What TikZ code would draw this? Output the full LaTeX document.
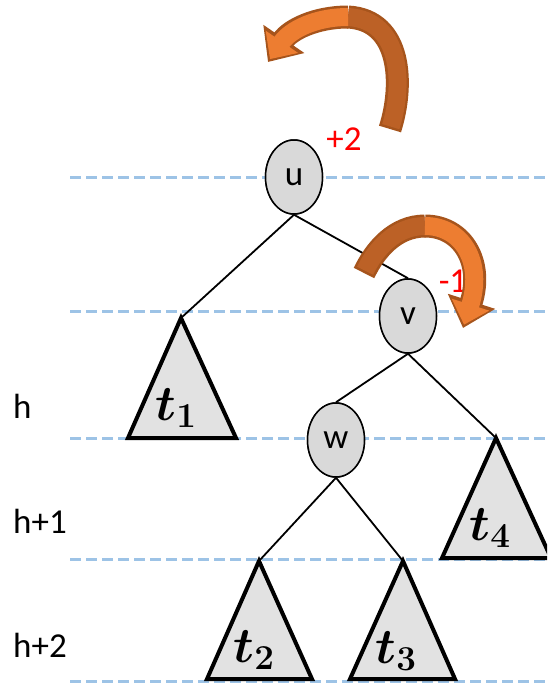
\RequirePackage{fix-cm}
\documentclass[tikz,border=0pt]{standalone}
\usepackage{fontspec}
\setmainfont{Carlito}
\usetikzlibrary{arrows.meta,shapes.geometric}
\definecolor{dashblue}{RGB}{157,195,230}
\definecolor{nodegray}{RGB}{217,217,217}
\definecolor{trigray}{RGB}{226,226,226}
\definecolor{arrowlight}{RGB}{237,125,49}
\definecolor{arrowdark}{RGB}{188,97,38}
\definecolor{arrowline}{RGB}{166,84,28}
\begin{document}
\begin{tikzpicture}[x=1pt,y=-1pt,
  levelline/.style={dashblue, line width=3pt, dash pattern=on 11pt off 5pt},
  treenode/.style={ellipse, draw, fill=nodegray, line width=1.5pt, minimum width=57pt, minimum height=74pt, inner sep=0pt, font=\fontsize{35}{40}\selectfont},
  treeedge/.style={line width=1.8pt},
  subtree/.style={draw, line width=4pt, fill=trigray, line join=miter},
  levellabel/.style={anchor=west, inner sep=0pt, font=\fontsize{35}{40}\selectfont},
  balance/.style={text=red, inner sep=0pt, font=\fontsize{35}{40}\selectfont},
  sublabel/.style={inner sep=0pt, font=\fontsize{50}{54}\selectfont\boldmath},
  rotouter/.style={line width=23pt, draw=arrowline},
  rotinner/.style={line width=18pt}
]
\useasboundingbox (0,0) rectangle (547,683);
\clip (0,0) rectangle (547,683);

% level lines
\foreach \yy in {177,311,438,559,681}
  \draw[levelline] (70,\yy) -- (547,\yy);

% subtree apexes
\coordinate (a1) at (181,318);
\coordinate (a4) at (496,438);
\coordinate (a2) at (259,561);
\coordinate (a3) at (403,561);

% nodes (placed first so that edges can refer to them)
\node[treenode] (u) at (294,177) {u};
\node[treenode] (v) at (408,316) {v};
\node[treenode] (w) at (336,440) {w};

% edges
\draw[treeedge] (u.south) -- (a1);
\draw[treeedge] (u.south) -- (v.north);
\draw[treeedge] (v.south) -- (w.north);
\draw[treeedge] (v.south) -- (a4);
\draw[treeedge] (w.south) -- (a2);
\draw[treeedge] (w.south) -- (a3);

% subtrees
\draw[subtree] (a1) -- (128,438) -- (236,438) -- cycle;
\draw[subtree] (a4) -- (442,558) -- (551,558) -- cycle;
\draw[subtree] (a2) -- (207,679) -- (312,679) -- cycle;
\draw[subtree] (a3) -- (350,679) -- (455,679) -- cycle;

% nodes again on top of the edge ends
\node[treenode] at (u) {u};
\node[treenode] at (v) {v};
\node[treenode] at (w) {w};

% subtree labels
\node[sublabel] (lt1) at (176,408) {$t_1$};
\node[sublabel] (lt4) at (490,528) {$t_4$};
\node[sublabel] (lt2) at (254,650) {$t_2$};
\node[sublabel] (lt3) at (396,651) {$t_3$};

% level labels
\node[levellabel] (lh) at (13,406) {h};
\node[levellabel] (lh1) at (13,521) {h+1};
\node[levellabel] (lh2) at (13,645) {h+2};

% balance factors
\node[balance] (bu) at (344,139) {+2};
\node[balance] (bv) at (453,281) {-1};

% rotation arrow at u
\draw[rotouter] (390,129) .. controls (404,85) and (402,20) .. (348,17);
\draw[rotouter, -{Triangle[length=28pt,width=48pt]}] (348,17) .. controls (315,17) and (290,30) .. (268,62);
\draw[rotinner, arrowdark, shorten <=2.5pt] (390,129) .. controls (404,85) and (402,20) .. (348,17);
\draw[rotinner, arrowlight, shorten >=3.5pt, -{Triangle[length=21pt,width=38pt]}] (348,17) .. controls (315,17) and (290,30) .. (268,62);

% rotation arrow at v
\draw[rotouter] (364,273) .. controls (375,250) and (395,226) .. (425,226);
\draw[rotouter, -{Triangle[length=28pt,width=48pt]}] (425,226) .. controls (462,226) and (484,262) .. (463,328);
\draw[rotinner, arrowdark, shorten <=2.5pt] (364,273) .. controls (375,250) and (395,226) .. (425,226);
\draw[rotinner, arrowlight, shorten >=3.5pt, -{Triangle[length=21pt,width=38pt]}] (425,226) .. controls (462,226) and (484,262) .. (463,328);
\end{tikzpicture}
\end{document}
